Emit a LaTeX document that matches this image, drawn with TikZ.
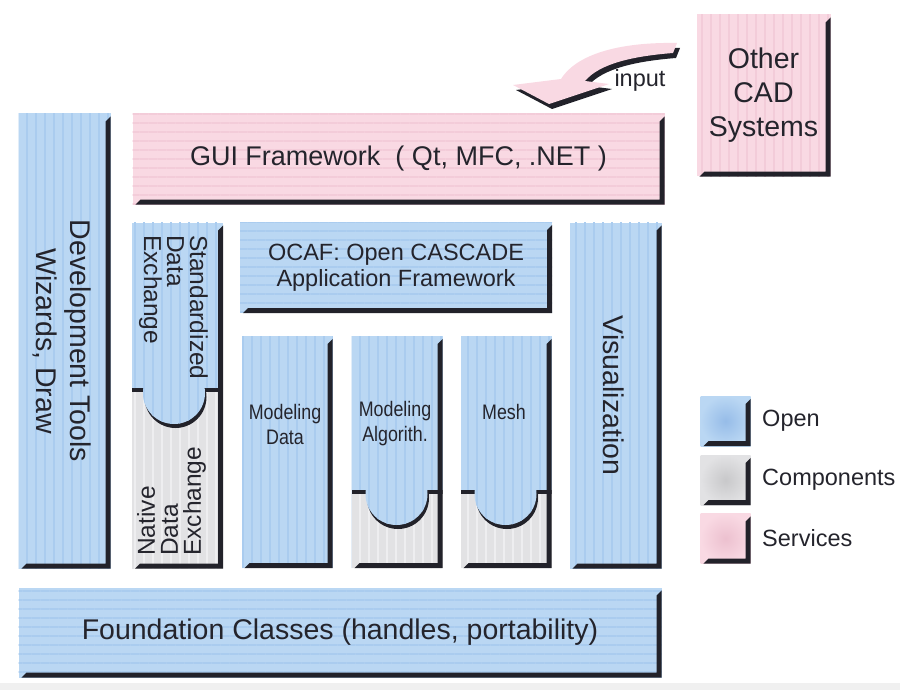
\documentclass[tikz,border=0pt]{standalone}
\usepackage{fontspec}
\setmainfont{Liberation Sans}
\usetikzlibrary{positioning, patterns.meta}

\definecolor{openblue}{RGB}{186,215,243}
\definecolor{openstripe}{RGB}{170,204,239}
\definecolor{opendeep}{RGB}{150,188,232}
\definecolor{compgrey}{RGB}{226,226,228}
\definecolor{compstripe}{RGB}{238,238,240}
\definecolor{compdeep}{RGB}{200,200,202}
\definecolor{servpink}{RGB}{249,217,227}
\definecolor{servstripe}{RGB}{243,204,217}
\definecolor{servdeep}{RGB}{236,192,207}
\definecolor{edgedark}{RGB}{34,34,42}
\definecolor{textdark}{RGB}{36,36,44}

% dark bevel inside the right and bottom sides of a named box
\newcommand{\boxedge}[1]{%
  \fill[edgedark] ([shift={(0,3)}]#1.north east) -- (#1.south east) -- ([shift={(3,0)}]#1.south west)
    -- ([shift={(8,-5)}]#1.south west) -- ([shift={(-5,-5)}]#1.south east)
    -- ([shift={(-5,8)}]#1.north east) -- cycle;}

\begin{document}
\begin{tikzpicture}[
    x=1pt, y=-1pt,
    vlines/.style={postaction={pattern={Lines[angle=90, distance=9pt, line width=2pt]},
        pattern color=#1}},
    hlines/.style={postaction={pattern={Lines[angle=0, distance=9pt, line width=2pt]},
        pattern color=#1}},
    block/.style={rectangle, inner sep=0pt, draw=none, text=textdark},
    openbox/.style={block, fill=openblue},
    compbox/.style={block, fill=compgrey},
    servbox/.style={block, fill=servpink},
    bigtext/.style={text=textdark, font=\fontsize{28.5}{34}\selectfont},
    midtext/.style={text=textdark, font=\fontsize{23.5}{26}\selectfont},
    sidetext/.style={text=textdark, inner sep=0pt, align=left, font=\fontsize{24.5}{23}\selectfont},
    smalltext/.style={text=textdark, align=center,
        font=\fontsize{21}{25}\selectfont\addfontfeature{FakeStretch=0.85}},
]
\useasboundingbox (0,0) rectangle (900,690);
\fill[black!6] (0,683) rectangle (900,690);

% --- Services: GUI layer and other CAD systems ---
\node[servbox, hlines=servstripe, minimum width=532pt, minimum height=91pt, bigtext,
    font=\fontsize{27}{34}\selectfont]
    (gui) at (398.5,159) {GUI Framework\ \ ( Qt, MFC, .NET )};
\boxedge{gui}
\node[servbox, vlines=servstripe, minimum width=134pt, minimum height=162pt, bigtext, align=center]
    (other) at (763.5,95.5) {Other\\CAD\\Systems};
\boxedge{other}

% Input arrow from the other systems (dark copy underneath)
\fill[edgedark]
    (680,48) .. controls (628,47) and (581,57) .. (564,84) -- (516,90) -- (552,109)
    -- (612,89) -- (588,86) .. controls (603,68) and (638,61) .. (676,58) -- cycle;
\fill[servpink]
    (677,43) .. controls (625,42) and (578,52) .. (561,79) -- (513,85) -- (549,104)
    -- (609,84) -- (585,81) .. controls (600,63) and (635,56) .. (673,53) -- cycle;
\node[midtext] (input) at (640,80) {input};

% --- Left column ---
\node[openbox, vlines=openstripe, minimum width=92pt, minimum height=455pt]
    (dev) at (64.5,341) {};
\boxedge{dev}
\node[bigtext, rotate=-90, align=center] (devtxt) at ([xshift=-2pt]dev) {Development Tools\\Wizards, Draw};

% --- Data exchange: standardized (open) over native (components) ---
\node[compbox, vlines=compstripe, minimum width=91pt, minimum height=346pt]
    (dex) at (177.5,395.5) {};
\begin{scope}
    \clip (132,388) rectangle (223,568);
    \fill[edgedark] (132,388) rectangle (223,392);
    \fill[edgedark] (175.5,397) circle (31);
    \fill[openblue, vlines=openstripe] (174,393) circle (31);
\end{scope}
\fill[openblue, vlines=openstripe] (132,222.5) rectangle (223,388);
\boxedge{dex}
\node[sidetext, rotate=-90, anchor=north west] (stdtxt) at (208,235) {Standardized\\Data\\Exchange};
\node[sidetext, rotate=90, anchor=north west] (nattxt) at (137,556) {Native\\Data\\Exchange};

% --- OCAF ---
\node[openbox, hlines=openstripe, minimum width=312pt, minimum height=91pt, midtext, align=center]
    (ocaf) at (396,267.5) {OCAF: Open CASCADE\\Application Framework};
\boxedge{ocaf}

% --- Modeling columns ---
\node[openbox, vlines=openstripe, minimum width=91pt, minimum height=232pt]
    (mdata) at (287,452) {};
\boxedge{mdata}
\node[smalltext] (mdatatxt) at (285,424) {Modeling\\Data};

\node[openbox, vlines=openstripe, minimum width=91pt, minimum height=232pt]
    (malgo) at (397,452) {};
\fill[compgrey, vlines=compstripe] (351.5,490) rectangle (442.5,568);
\begin{scope}
    \clip (351.5,490) rectangle (442.5,568);
    \fill[edgedark] (351.5,490) rectangle (442.5,494);
    \fill[edgedark] (398,498) circle (31);
    \fill[openblue, vlines=openstripe] (396.5,494) circle (31);
\end{scope}
\boxedge{malgo}
\node[smalltext] (malgotxt) at (395,424) {Modeling\\Algorith.};

\node[openbox, vlines=openstripe, minimum width=91pt, minimum height=232pt]
    (mesh) at (506,452) {};
\fill[compgrey, vlines=compstripe] (460.5,490) rectangle (551.5,568);
\begin{scope}
    \clip (460.5,490) rectangle (551.5,568);
    \fill[edgedark] (460.5,490) rectangle (551.5,494);
    \fill[edgedark] (507,498) circle (31);
    \fill[openblue, vlines=openstripe] (505.5,494) circle (31);
\end{scope}
\boxedge{mesh}
\node[smalltext] (meshtxt) at (504,412) {Mesh};

% --- Visualization ---
\node[openbox, vlines=openstripe, minimum width=92pt, minimum height=346pt]
    (vis) at (615.5,395.5) {};
\boxedge{vis}
\node[bigtext, rotate=-90] (vistxt) at ([xshift=-2pt]vis) {Visualization};

% --- Foundation ---
\node[openbox, hlines=openstripe, minimum width=643pt, minimum height=90pt, bigtext]
    (found) at (340,632.5) {Foundation Classes (handles, portability)};
\boxedge{found}

% --- Legend ---
\node[block, minimum size=50pt, inner color=opendeep, outer color=openblue]
    (keyopen) at (725.5,421) {};
\boxedge{keyopen}
\node[block, minimum size=50pt, inner color=compdeep, outer color=compgrey]
    (keycomp) at (725.5,480) {};
\boxedge{keycomp}
\node[block, minimum size=50pt, inner color=servdeep, outer color=servpink]
    (keyserv) at (725.5,538.5) {};
\boxedge{keyserv}
\node[midtext, right=8pt of keyopen] (keyopentxt) {Open};
\node[midtext, right=8pt of keycomp] (keycomptxt) {Components};
\node[midtext, right=8pt of keyserv] (keyservtxt) {Services};

\end{tikzpicture}
\end{document}
